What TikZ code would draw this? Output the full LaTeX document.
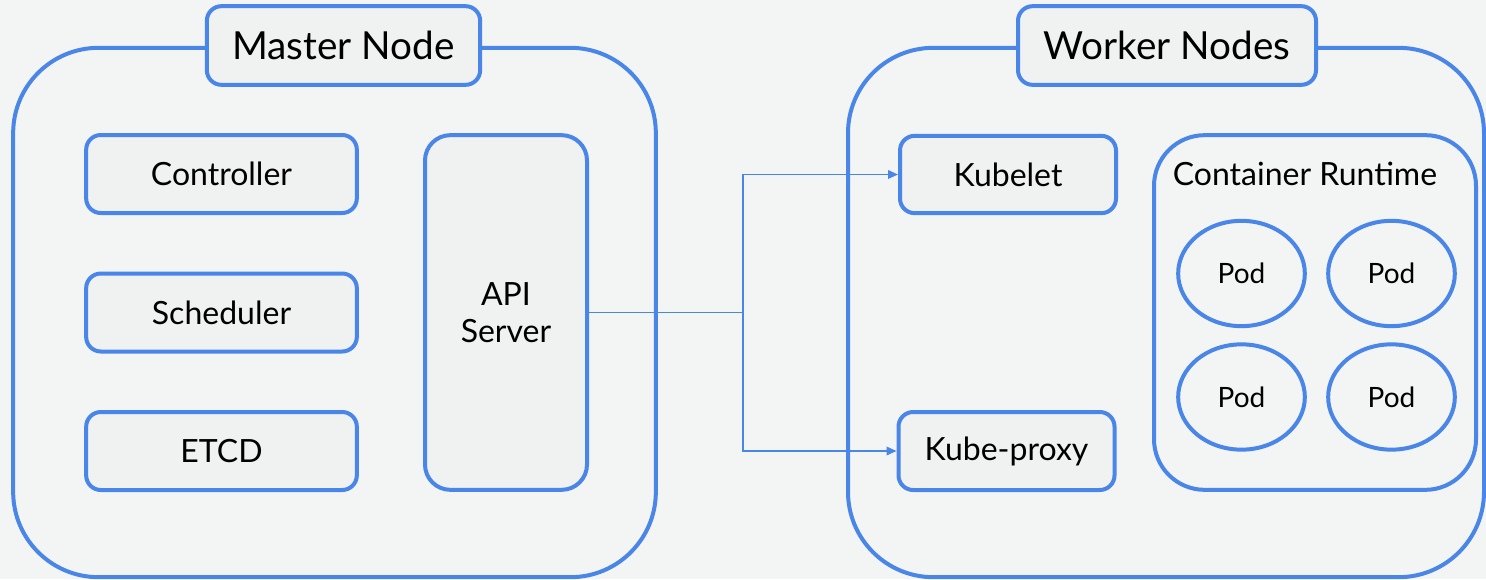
\documentclass[tikz,border=0pt]{standalone}
\usepackage{fontspec}
\setmainfont{Lato}
\usetikzlibrary{arrows.meta,shapes.geometric}
\definecolor{kblue}{HTML}{4A86E8}
\definecolor{kback}{HTML}{F3F5F5}
\definecolor{kfill}{HTML}{F0F1F1}
\tikzset{
  part/.style={draw=kblue, line width=3pt, fill=kfill, rounded corners=11pt,
    inner sep=0pt, font=\fontsize{24}{28}\selectfont},
  group/.style={draw=kblue, line width=3pt, rounded corners=64pt, inner sep=0pt},
  title/.style={part, font=\fontsize{29}{34}\selectfont},
  pod/.style={draw=kblue, line width=3pt, ellipse, inner sep=0pt,
    minimum width=95pt, minimum height=79pt, font=\fontsize{21}{25}\selectfont},
  link/.style={draw=kblue, line width=1.1pt},
  tolink/.style={link, -{Triangle[length=7.5pt,width=6.5pt]}}
}
\begin{document}
\begin{tikzpicture}[x=0.75pt,y=-0.75pt]
  \fill[kback] (0,0) rectangle (1486,579);
  \useasboundingbox (0,0) rectangle (1486,579);

  % master side
  \node[group, minimum width=482pt, minimum height=397pt] (master) at (334.5,312.5) {};
  \node[title, minimum width=205pt, minimum height=59pt] (mastertitle) at (343.5,45.5) {Master Node};
  \node[part, minimum width=203pt, minimum height=58.5pt] (ctrl) at (221.5,174) {Controller};
  \node[part, minimum width=203pt, minimum height=58.5pt] (sched) at (221.5,312.5) {Scheduler};
  \node[part, minimum width=203pt, minimum height=58.5pt] (etcd) at (221.5,451) {ETCD};
  \node[part, rounded corners=19pt, minimum width=121.5pt, minimum height=266pt,
    align=center] (api) at (506,312.5) {API\\Server};

  % worker side
  \node[group, minimum width=477pt, minimum height=397pt] (worker) at (1166,312.5) {};
  \node[title, minimum width=223.5pt, minimum height=59pt] (workertitle) at (1167,45.5) {Worker Nodes};
  \node[part, minimum width=162pt, minimum height=58pt] (kubelet) at (1008,174.5) {Kubelet};
  \node[part, minimum width=162pt, minimum height=58.5pt] (proxy) at (1006.5,451) {Kube-proxy};
  \node[part, fill=none, rounded corners=38pt, minimum width=241.5pt, minimum height=266pt] (runtime) at (1315,312.5) {};
  \node[font=\fontsize{24}{28}\selectfont, inner sep=0pt] (runtimelabel) at (1305,174) {Container Runtime};
  \node[pod] (pod1) at (1241.5,273.5) {Pod};
  \node[pod] (pod2) at (1391.5,273.5) {Pod};
  \node[pod] (pod3) at (1241.5,397) {Pod};
  \node[pod] (pod4) at (1391.5,397) {Pod};

  % api server to the worker agents
  \coordinate (split) at (743,312.5);
  \draw[link] (api.east) -- (split);
  \draw[tolink] (split) |- (kubelet.west);
  \draw[tolink] (split) |- (proxy.west);
\end{tikzpicture}
\end{document}
